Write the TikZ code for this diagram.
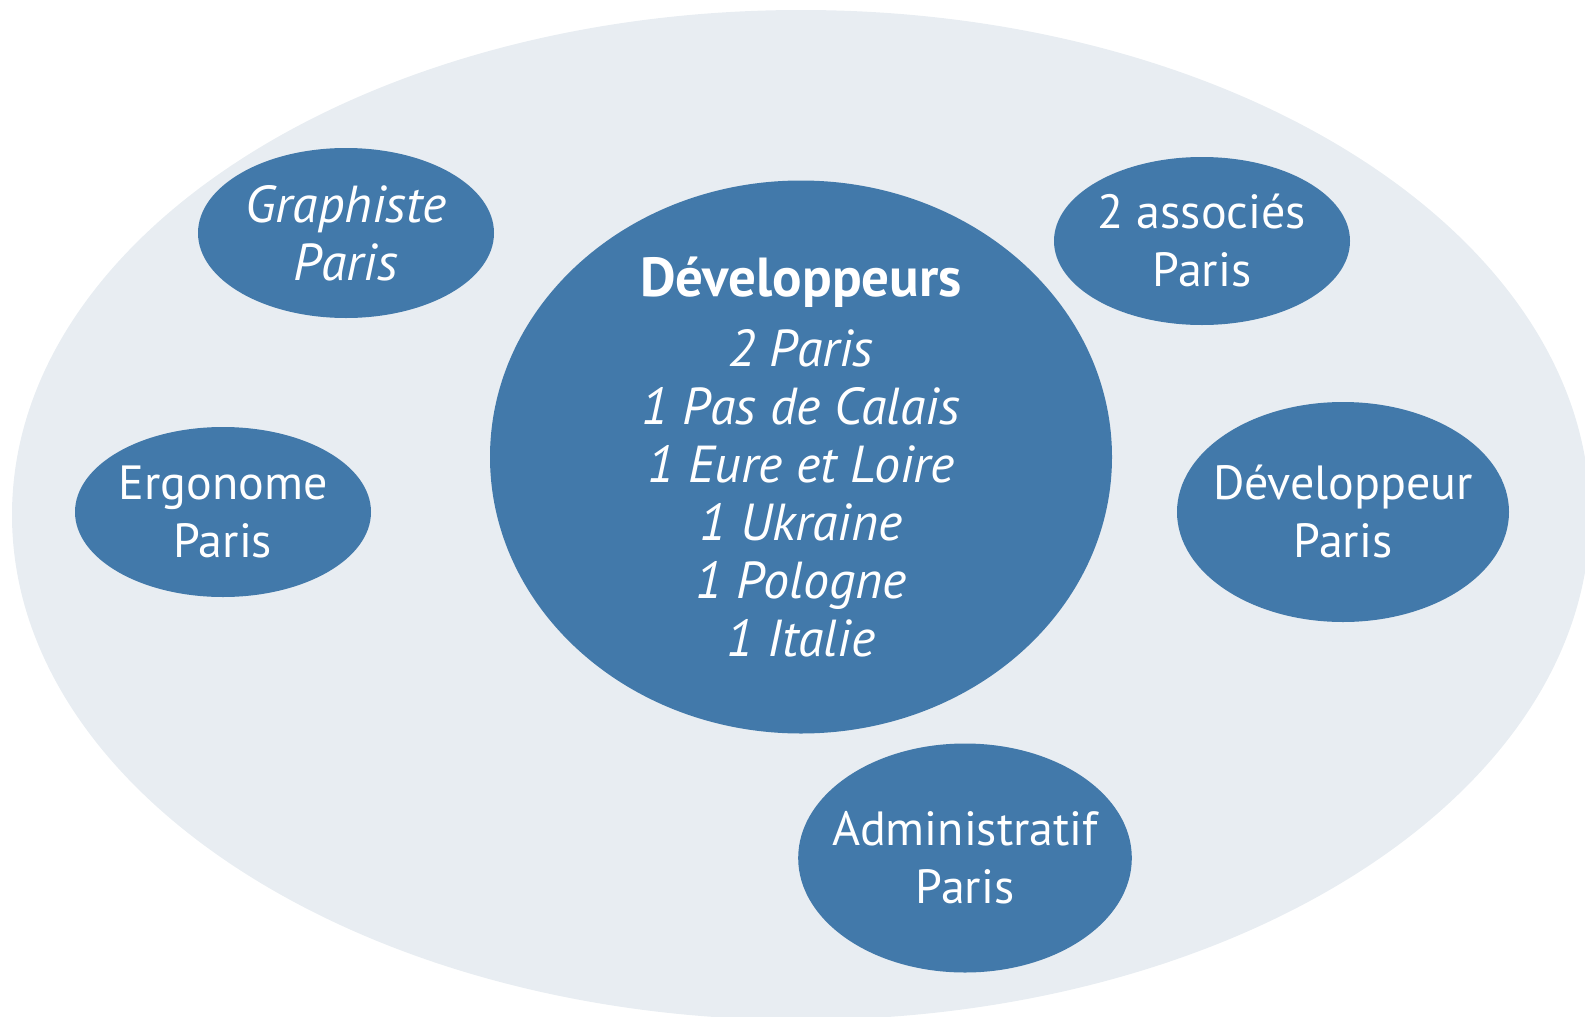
\documentclass[tikz,border=0pt]{standalone}
\usepackage{fontspec}
\usepackage{tikz}
\usepackage{xcolor}
\usetikzlibrary{shapes.geometric}
\setmainfont{PT Sans}

\definecolor{teamblue}{HTML}{4279AA}
\definecolor{teamback}{HTML}{E8EDF2}

\begin{document}
\begin{tikzpicture}[x=1pt,y=-1pt,
  team/.style={ellipse,fill=teamback,draw=none,inner sep=0pt},
  member/.style={ellipse,fill=teamblue,draw=none,inner xsep=-15pt,inner ysep=-10pt,
    text=white,align=center,font=\fontsize{48}{58}\selectfont},
  slanted/.style={font=\fontsize{52}{58}\selectfont\itshape},
  ]
\useasboundingbox (0,0) rectangle (1585,1017);
\begin{scope}
\clip (0,0) rectangle (1585,1017);
\node [team,minimum width=1578pt,minimum height=1010pt] (equipe) at (801,515) {};
\end{scope}

% developpeurs au centre
\node [member,slanted,inner ysep=-50pt,minimum width=622pt,minimum height=553pt] (dev) at (801,457) {
{\bfseries\upshape\fontsize{55}{58}\selectfont Développeurs}\\[12pt]
2 Paris\\
1 Pas de Calais\\
1 Eure et Loire\\
1 Ukraine\\
1 Pologne\\
1 Italie};

% autour
\node [member,slanted,minimum width=296pt,minimum height=170pt] (graph) at (346,233) {Graphiste\\Paris};
\node [member,minimum width=296pt,minimum height=170pt] (ergo) at (223,512) {Ergonome\\Paris};
\node [member,minimum width=296pt,minimum height=168pt] (assoc) at (1202,241) {2 associés\\Paris};
\node [member,minimum width=332pt,minimum height=220pt] (devparis) at (1343,512) {Développeur\\Paris};
\node [member,minimum width=333pt,minimum height=229pt] (admin) at (965,858) {Administratif\\Paris};
\end{tikzpicture}
\end{document}
